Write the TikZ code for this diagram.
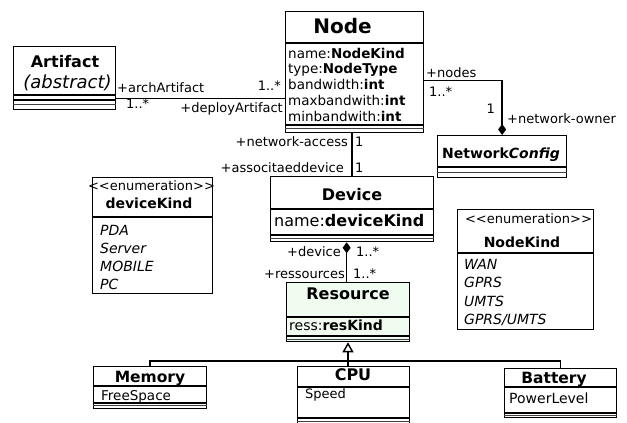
\documentclass[tikz,border=0pt]{standalone}
\usepackage{fontspec}
\setmainfont{DejaVu Sans}
\usetikzlibrary{arrows.meta}
\definecolor{resfill}{HTML}{F0FCF0}
\definecolor{thinl}{HTML}{404040}
\newcommand\fsz[1]{\fontsize{#1}{#1}\selectfont}
\newcommand\cdiv[2]{\draw[divl] ([yshift=-#2pt]#1.north west) -- ([yshift=-#2pt]#1.north east);}
\newcommand\cdivt[2]{\draw[divt] ([yshift=-#2pt]#1.north west) -- ([yshift=-#2pt]#1.north east);}
\begin{document}
\begin{tikzpicture}[x=1pt,y=-1pt,
 cbox/.style={draw=black, line width=1.3pt, fill=white, inner sep=0pt, anchor=north west},
 divl/.style={line width=1.1pt},
 divt/.style={line width=0.7pt, draw=thinl},
 conn/.style={line width=1.4pt},
 lbl/.style={inner sep=0pt, font=\fsz{13}},
 attr/.style={inner sep=0pt, anchor=base west, font=\fsz{13.5}},
 ttl/.style={inner sep=0pt, anchor=base, font=\fsz{16}\bfseries},
 enumit/.style={inner sep=0pt, anchor=base west, font=\fsz{14}\itshape},
 stereo/.style={inner sep=0pt, anchor=base, font=\fsz{13}}
]
\useasboundingbox (0,0) rectangle (627,423);

% ---------- boxes
\node[cbox, minimum width=102pt, minimum height=63pt] (art) at (13,46) {};
\cdiv{art}{49} \cdiv{art}{54} \cdivt{art}{58.5}

\node[cbox, minimum width=138pt, minimum height=121pt] (nd) at (285,11) {};
\cdiv{nd}{32} \cdiv{nd}{114} \cdivt{nd}{117.5}

\node[cbox, minimum width=129pt, minimum height=42pt] (nc) at (437,135) {};
\cdiv{nc}{32} \cdivt{nc}{37}

\node[cbox, minimum width=163pt, minimum height=65pt] (dev) at (270,176) {};
\cdiv{dev}{33} \cdiv{dev}{59} \cdivt{dev}{62}

\node[cbox, minimum width=120pt, minimum height=116pt] (dk) at (92,177) {};
\cdiv{dk}{40}

\node[cbox, minimum width=136pt, minimum height=120pt] (nk) at (457,209) {};
\cdiv{nk}{44}

\node[cbox, fill=resfill, minimum width=123pt, minimum height=59pt] (res) at (286,282) {};
\cdiv{res}{35} \cdiv{res}{54} \cdivt{res}{57}

\node[cbox, minimum width=113pt, minimum height=42pt] (mem) at (93,366) {};
\cdiv{mem}{20} \cdiv{mem}{37} \cdivt{mem}{39.5}

\node[cbox, minimum width=112pt, minimum height=57pt] (cpu) at (297,366) {};
\cdiv{cpu}{21} \cdiv{cpu}{52} \cdivt{cpu}{55}

\node[cbox, minimum width=112pt, minimum height=49pt] (bat) at (504,368) {};
\cdiv{bat}{19} \cdiv{bat}{45} \cdivt{bat}{47}

% ---------- box texts
\node[ttl] (tart) at (65,67) {Artifact};
\node[inner sep=0pt, anchor=base, font=\fsz{18}\itshape] (tabs) at (67.5,88) {(abstract)};

\node[ttl, font=\fsz{20}\bfseries] (tnd) at (342.5,33) {Node};
\node[attr] (na1) at (288,58) {name:\textbf{NodeKind}};
\node[attr] (na2) at (288,73.75) {type:\textbf{NodeType}};
\node[attr] (na3) at (288,89.5) {bandwidth:\textbf{int}};
\node[attr] (na4) at (288,105.25) {maxbandwith:\textbf{int}};
\node[attr] (na5) at (288,121) {minbandwith:\textbf{int}};

\node[ttl, font=\fsz{14}\bfseries] (tnc) at (501,158) {Network\textit{Config}};

\node[ttl] (tdev) at (352,200) {Device};
\node[attr, font=\fsz{16}] (da1) at (274,226) {name:\textbf{deviceKind}};

\node[stereo] (sdk) at (151.5,190) {<\kern0pt<enumeration>\kern0pt>};
\node[ttl, font=\fsz{14}\bfseries] (tdk) at (149,208) {deviceKind};
\node[enumit] (dk1) at (100,235) {PDA};
\node[enumit] (dk2) at (100,253) {Server};
\node[enumit] (dk3) at (100,271) {MOBILE};
\node[enumit] (dk4) at (100,289) {PC};

\node[stereo] (snk) at (528.5,223) {<\kern0pt<enumeration>\kern0pt>};
\node[ttl, font=\fsz{14}\bfseries] (tnk) at (522,247) {NodeKind};
\node[enumit] (nk1) at (464,269) {WAN};
\node[enumit] (nk2) at (464,287.5) {GPRS};
\node[enumit] (nk3) at (464,306) {UMTS};
\node[enumit] (nk4) at (464,324) {GPRS/UMTS};

\node[ttl] (tres) at (348,299) {Resource};
\node[attr, font=\fsz{14}] (ra1) at (289,330) {ress:\textbf{resKind}};

\node[ttl, font=\fsz{15.5}\bfseries] (tmem) at (150,382) {Memory};
\node[attr] (ma1) at (101,400) {FreeSpace};

\node[ttl] (tcpu) at (353,380) {CPU};
\node[attr, font=\fsz{13}] (ca1) at (305,398) {Speed};

\node[ttl, font=\fsz{15.5}\bfseries] (tbat) at (554,383) {Battery};
\node[attr, font=\fsz{14}] (ba1) at (509,403) {PowerLevel};

% ---------- connectors
\draw[conn] ([yshift=12pt]art.south east) coordinate (a1) -- (a1 -| nd.west);
\draw[conn, -{Diamond[length=11pt,width=8pt]}] ([yshift=-8.5pt]nd.east) -| (nc.north);
\draw[conn] (dev.north) -- (dev.north |- nd.south);
\draw[conn, {Diamond[length=11pt,width=8pt]}-] ([xshift=-1.5pt]res.north |- dev.south) -- ([xshift=-1.5pt]res.north);
\coordinate (bus) at (348,361);
\draw[conn, -{Triangle[open,length=10pt,width=11pt]}] (cpu.north -| bus) -- (res.south -| bus);
\draw[conn] (mem.north) |- (bus) -| (bat.north);

% ---------- connector labels
\node[lbl, anchor=base west] (l1) at (117,92) {+archArtifact};
\node[lbl, anchor=base east] (l2) at (281,90) {1..*};
\node[lbl, anchor=base west] (l3) at (126,108) {1..*};
\node[lbl, anchor=base east] (l4) at (283,112) {+deployArtifact};
\node[lbl, anchor=base west] (l5) at (426,77) {+nodes};
\node[lbl, anchor=base west] (l6) at (429,96) {1..*};
\node[lbl, anchor=base east] (l7) at (495,113) {1};
\node[lbl, anchor=base west] (l8) at (507,123) {+network-owner};
\node[lbl, anchor=base east] (l9) at (348,146) {+network-access};
\node[lbl, anchor=base west] (l10) at (355,146) {1};
\node[lbl, anchor=base east] (l11) at (344,172) {+associtaeddevice};
\node[lbl, anchor=base west] (l12) at (355,172) {1};
\node[lbl, anchor=base east] (l13) at (341,256) {+device};
\node[lbl, anchor=base west] (l14) at (356,256) {1..*};
\node[lbl, anchor=base east] (l15) at (345,278) {+ressources};
\node[lbl, anchor=base west] (l16) at (353,278) {1..*};
\end{tikzpicture}
\end{document}
